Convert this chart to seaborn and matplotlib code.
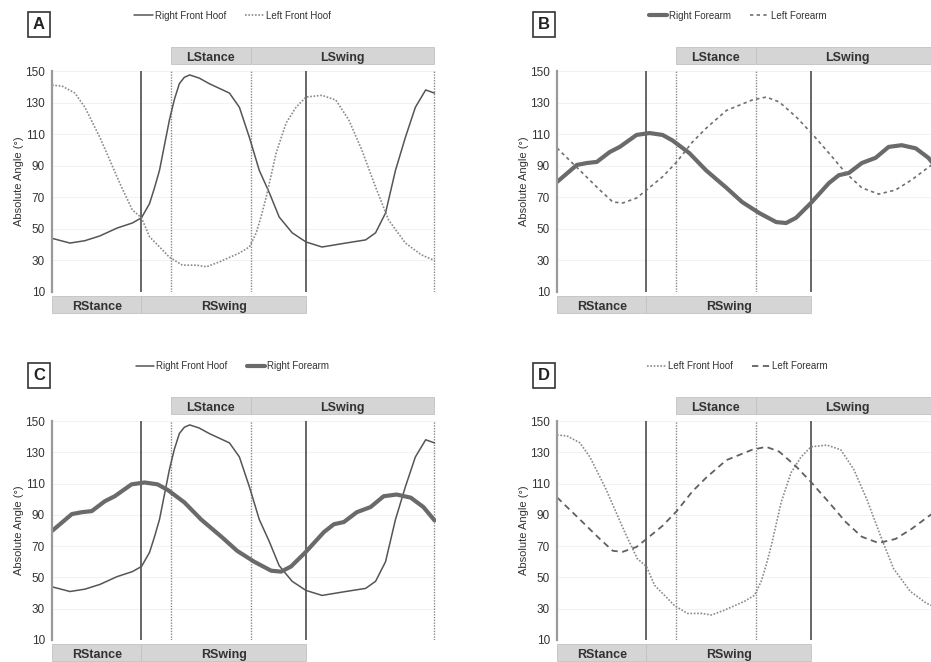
import matplotlib.pyplot as plt
import matplotlib.transforms as mtransforms
from matplotlib.patches import Rectangle
import seaborn as sns

# % of gait cycle and absolute angle (deg)
rhoof_pct = [0, 4.7, 8.6, 12.5, 17, 21, 23.4, 25.5, 26.8, 28.1, 29.4, 30.7, 32, 33.3,
             34.6, 36, 38.5, 41.1, 46.4, 49, 51.6, 54.2, 56.8, 59.4, 62.8, 66.4, 70.6,
             76.8, 82, 84.6, 87.2, 89.8, 92.4, 95, 97.7, 100]
rhoof_deg = [44, 41, 42.5, 45.5, 50.5, 53.7, 57, 66, 76, 87, 103, 119, 132, 142,
             146, 147.5, 145.5, 142, 136, 127, 108, 87, 73, 57.5, 47.5, 41.7, 38.5,
             41, 43, 47.5, 60, 87, 108, 127, 138, 136]

lhoof_pct = [0, 2.6, 6, 8.6, 12.5, 15.1, 17.7, 21, 23.4, 25.5, 28.9, 30.7, 34.1, 37.8,
             40.4, 43.7, 49, 51.6, 53.4, 54.7, 56, 57.3, 58.6, 61.2, 63.8, 66.4, 70.6,
             74.2, 77.6, 81, 84.6, 88, 92.4, 96.6, 100]
lhoof_deg = [141, 140.5, 136, 127, 108, 93.6, 79, 62, 57, 45, 36.6, 32, 27, 27,
             26, 29, 34.7, 38.5, 47.5, 58, 70, 84, 98, 117, 127, 133.5, 134.6,
             131.6, 119, 100, 76.5, 55.6, 41, 33.5, 30]

rarm_pct = [0, 5.2, 7.8, 10.4, 13.8, 16.4, 20.8, 24.2, 27.6, 30.2, 34.6, 39, 44.3,
            48.4, 52.9, 57.3, 59.9, 62.5, 66.4, 71.1, 73.7, 76.3, 79.7, 83.3, 86.7,
            90.1, 93.8, 97.1, 100]
rarm_deg = [79.7, 90.5, 91.7, 92.4, 98.7, 101.9, 109.5, 110.7, 109.5, 106, 98, 87, 76,
            67, 60, 54.3, 53.7, 57, 66.4, 79, 84, 85.4, 91.7, 95, 101.9,
            103, 101, 95, 86.5]

larm_pct = [0, 6, 11.2, 14.6, 17.2, 20.8, 23.4, 27.6, 31.3, 35.4, 39.1, 44.3, 51,
            54.7, 58.1, 62.5, 66.4, 71.1, 75.5, 79.7, 84.1, 88.5, 92.7, 97.1, 100]
larm_deg = [101.2, 87, 74.6, 67, 66.4, 69.5, 74.6, 83, 92.4, 105, 114, 125, 131.6,
            133.5, 130.4, 121, 111, 98, 85.4, 76, 72, 74.6, 81, 89, 94]

# gait events (% of cycle)
solid_events = [23.4, 66.4]
dotted_events = [31, 52, 100]
top_phases = [("LStance", 31, 52), ("LSwing", 52, 100)]
bottom_phases = [("RStance", 0, 23.4), ("RSwing", 23.4, 66.4)]
yticks = [10, 30, 50, 70, 90, 110, 130, 150]

sns.set_theme(style="white")
plt.rcParams["font.family"] = ["Liberation Sans", "DejaVu Sans"]

STYLES = {
    "Right Front Hoof": dict(color="#555555", linewidth=1.1, linestyle="-"),
    "Left Front Hoof": dict(color="#8a8a8a", linewidth=1.2, linestyle=(0, (1, 1))),
    "Right Forearm": dict(color="#6a6a6a", linewidth=3, linestyle="-"),
    "Left Forearm B": dict(color="#707070", linewidth=1.2, linestyle=(0, (2, 2))),
    "Left Forearm D": dict(color="#606060", linewidth=1.3, linestyle=(0, (3.5, 2.5))),
}
DATA = {
    "Right Front Hoof": (rhoof_pct, rhoof_deg),
    "Left Front Hoof": (lhoof_pct, lhoof_deg),
    "Right Forearm": (rarm_pct, rarm_deg),
    "Left Forearm": (larm_pct, larm_deg),
}

fig = plt.figure(figsize=(9.31, 6.62), dpi=100)
W, H = 931, 662


def make_ax(left, top, bottom):
    return fig.add_axes([left / W, (H - bottom) / H, 384 / W, (bottom - top) / H])


def draw_panel(ax, letter, series):
    for name, style_key in series:
        x, y = DATA[name]
        sns.lineplot(x=x, y=y, ax=ax, label=name, **STYLES[style_key])

    for ev in solid_events:
        ax.axvline(ev, color="#5a5a5a", lw=1.3, zorder=1)
    for ev in dotted_events:
        ax.axvline(ev, color="#8a8a8a", lw=1.0, ls=(0, (1, 1)), zorder=1)

    ax.set_xlim(0, 100.4)
    ax.set_ylim(10, 150)
    ax.set_xticks([])
    ax.set_yticks(yticks)
    ax.tick_params(axis="y", length=0, labelsize=8.5, pad=5, labelcolor="#333333")
    ax.yaxis.grid(True, color="#f2f2f2", lw=0.8)
    ax.set_axisbelow(True)
    for s in ["top", "right", "bottom"]:
        ax.spines[s].set_visible(False)
    ax.spines["left"].set_color("#9a9a9a")
    ax.spines["left"].set_linewidth(1.6)
    ax.set_ylabel("Absolute Angle (°)", fontsize=8, color="#333333", labelpad=1)

    trans = mtransforms.blended_transform_factory(ax.transData, ax.transAxes)
    for phases, y0, h in [(top_phases, 1.032, 0.077), (bottom_phases, -0.095, 0.077)]:
        for label, a, b in phases:
            ax.add_patch(Rectangle((a, y0), b - a, h, transform=trans, clip_on=False,
                                   fc="#d5d5d5", ec="#c2c2c2", lw=0.6))
            ax.text((a + b) / 2, y0 + h * 0.45, label, transform=trans, ha="center",
                    va="center_baseline", fontsize=9, fontweight="bold",
                    color="#333333")

    ax.text(-0.034, 1.21, letter, transform=ax.transAxes, ha="center", va="center",
            fontsize=12, fontweight="bold", color="#222222",
            bbox=dict(boxstyle="square,pad=0.3", fc="white", ec="#333333", lw=1.2))

    ax.legend(loc="center", bbox_to_anchor=(0.47, 1.25), ncol=2, frameon=False,
              fontsize=7, handlelength=1.9, handletextpad=0.2, columnspacing=2.0,
              labelcolor="#333333")


axA = make_ax(52, 71, 292)
axB = make_ax(557, 71, 292)
axC = make_ax(52, 421, 640)
axD = make_ax(557, 421, 640)

draw_panel(axA, "A", [("Right Front Hoof", "Right Front Hoof"),
                      ("Left Front Hoof", "Left Front Hoof")])
draw_panel(axB, "B", [("Right Forearm", "Right Forearm"),
                      ("Left Forearm", "Left Forearm B")])
draw_panel(axC, "C", [("Right Front Hoof", "Right Front Hoof"),
                      ("Right Forearm", "Right Forearm")])
draw_panel(axD, "D", [("Left Front Hoof", "Left Front Hoof"),
                      ("Left Forearm", "Left Forearm D")])

fig.savefig("out.png", dpi=100)
